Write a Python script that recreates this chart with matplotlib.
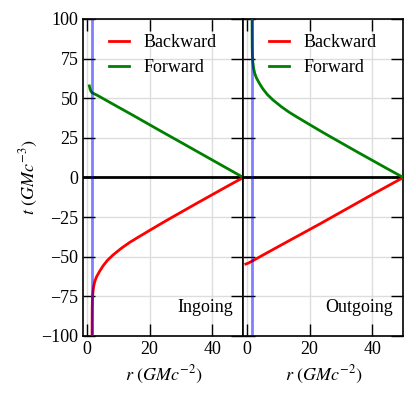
import matplotlib

matplotlib.use("Agg")
import matplotlib.pyplot as plt

plt.rcParams["font.family"] = "serif"
plt.rcParams["font.serif"] = ["Liberation Serif", "DejaVu Serif"]
plt.rcParams["mathtext.fontset"] = "stix"
plt.rcParams["font.size"] = 13

HORIZON_R = 1.6

# Ingoing panel
in_back_r = [50, 45, 40, 35, 30, 26.5, 23, 20, 16, 13.6, 11, 8.3, 6.5, 5.1, 4.0, 3.0, 2.5, 2.1, 1.85, 1.72, 1.65, 1.62, 1.6]
in_back_t = [0, -5.4, -10.9, -16.4, -22, -25.9, -29.9, -33.4, -38.1, -41.0, -44.6, -48.9, -52.3, -55.8, -59.2, -62.8, -65.4, -68.8, -72.8, -76.5, -82, -90, -100]
in_fwd_r = [50, 40, 30, 23.3, 15, 8, 3.5, 2.2, 1.7, 1.3, 1.0, 0.72]
in_fwd_t = [0, 11.1, 22.2, 29.6, 38.9, 46.6, 51.6, 52.9, 53.3, 54.2, 55.6, 57.8]

# Outgoing panel
out_back_r = [-0.4, 0.3, 1.0, 10, 23.2, 40, 50]
out_back_t = [-54.6, -54.1, -53.4, -43.6, -29.4, -10.8, 0]
out_fwd_r = [50, 45, 40, 35, 30, 26.5, 23, 20, 16, 13.6, 11, 8.3, 6.5, 5.1, 4.0, 3.0, 2.5, 2.1, 1.85, 1.72, 1.65, 1.62, 1.6]
out_fwd_t = [0, 5.4, 10.9, 16.4, 22, 25.9, 29.9, 33.4, 38.1, 41.0, 44.6, 48.9, 52.3, 55.8, 59.2, 62.8, 65.4, 68.8, 72.8, 76.5, 82, 90, 100]

panels = [
    ("Ingoing", in_back_r, in_back_t, in_fwd_r, in_fwd_t),
    ("Outgoing", out_back_r, out_back_t, out_fwd_r, out_fwd_t),
]

fig, axes = plt.subplots(1, 2, figsize=(4.16, 3.98), dpi=100, sharey=True)
fig.subplots_adjust(left=0.2003, right=0.9695, bottom=0.1558, top=0.9523, wspace=0)

for ax, (name, br, bt, fr, ft) in zip(axes, panels):
    ax.grid(True, color="#dddddd", lw=1.0, zorder=0)
    ax.axhline(0, color="black", lw=2, zorder=2)
    ax.plot(br, bt, color="red", lw=2, label="Backward", zorder=3)
    ax.plot(fr, ft, color="green", lw=2, label="Forward", zorder=3)
    ax.axvline(HORIZON_R, color="blue", alpha=0.5, lw=2, zorder=4)
    ax.set_xlim(-1.2, 50)
    ax.set_ylim(-100, 100)
    ax.set_xticks([0, 20, 40])
    ax.set_yticks([-100, -75, -50, -25, 0, 25, 50, 75, 100])
    ax.tick_params(direction="in", length=8.5, width=1, top=True, right=True, labelsize=13)
    for s in ax.spines.values():
        s.set_linewidth(1.2)
    ax.set_xlabel(r"$r\ (GMc^{-2})$", fontsize=13)
    ax.text(0.935, 0.09, name, transform=ax.transAxes, ha="right", va="center", fontsize=13)
    ax.legend(loc="upper left", bbox_to_anchor=(0.16, 0.952), frameon=False,
              handlelength=1.1, handletextpad=0.8, borderpad=0, borderaxespad=0,
              labelspacing=0.45, fontsize=13)

axes[1].tick_params(labelleft=False)
axes[0].set_ylabel(r"$t\ (GMc^{-3})$", fontsize=13, labelpad=1)

fig.savefig("out.png", dpi=100)
